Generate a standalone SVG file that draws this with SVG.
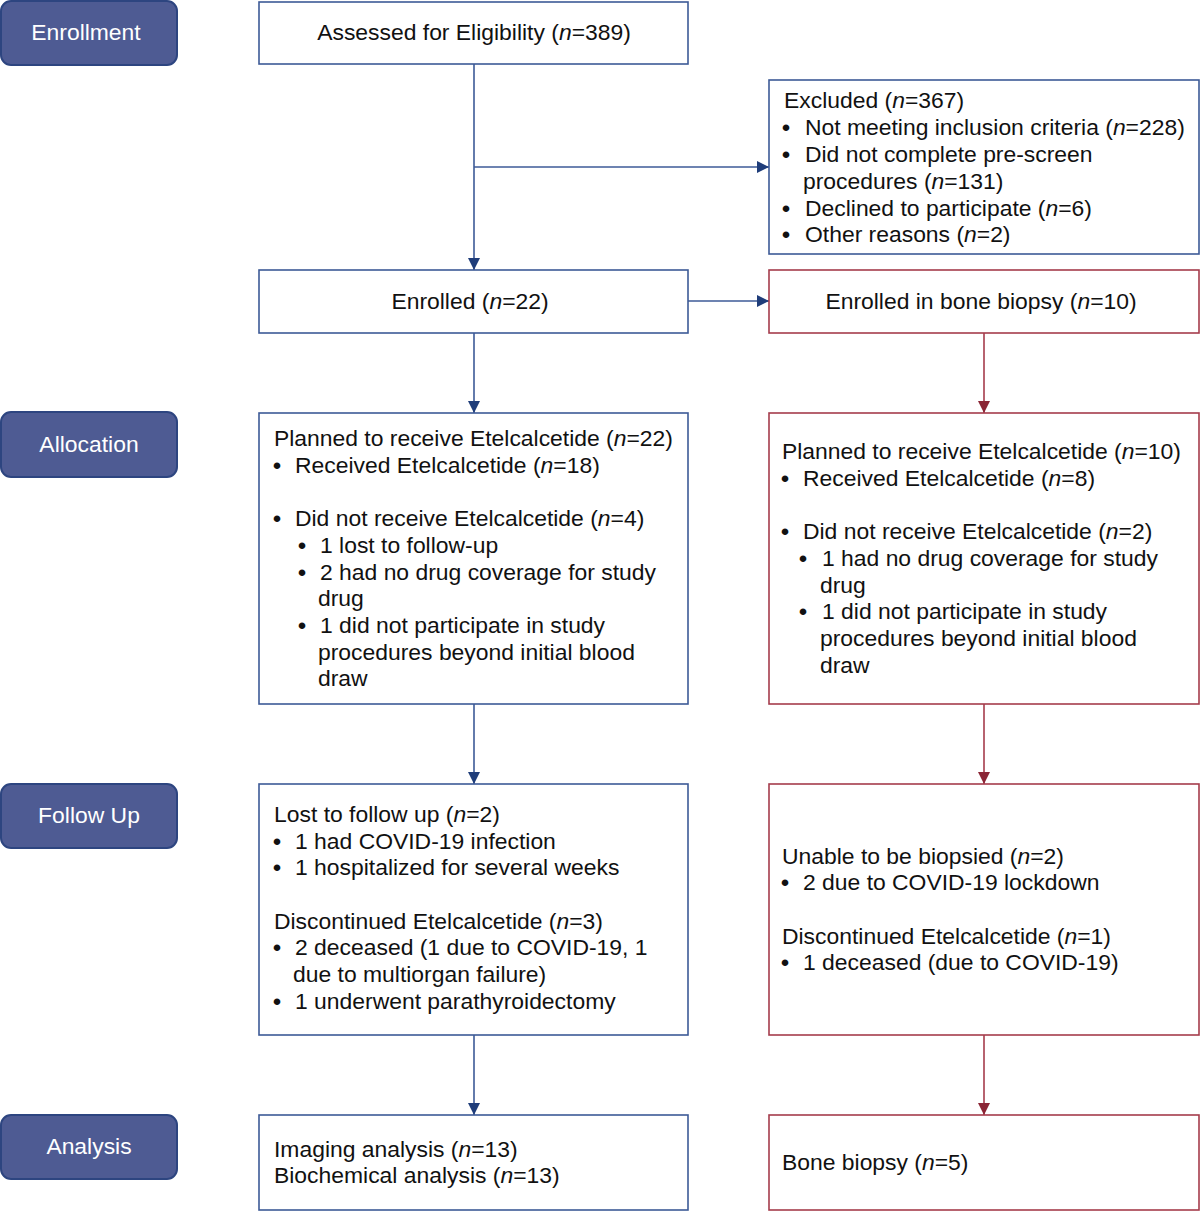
<svg xmlns="http://www.w3.org/2000/svg" width="1200" height="1211" viewBox="0 0 1200 1211">
<defs>
<style>
text{font-family:"Liberation Sans",Arial,sans-serif;font-size:22.9px;fill:#111}
.lbl rect{fill:#4e5b93;stroke:#2d4580;stroke-width:2}
.lbl text{fill:#fff;text-anchor:middle}
.bb{fill:#fff;stroke:#3d5a97;stroke-width:1.6}
.rb{fill:#fff;stroke:#a53c4c;stroke-width:1.6}
.cb{fill:none;stroke:#3d5a97;stroke-width:1.6}
.cr{fill:none;stroke:#a53c4c;stroke-width:1.6}
.c{text-anchor:middle}
.b{font-weight:bold}
</style>
<marker id="ab" viewBox="0 0 12 12" refX="12" refY="6" markerWidth="12" markerHeight="12" markerUnits="userSpaceOnUse" orient="auto"><path d="M0,0 L12,6 L0,12 Z" fill="#1f3d7a"/></marker>
<marker id="ar" viewBox="0 0 12 12" refX="12" refY="6" markerWidth="12" markerHeight="12" markerUnits="userSpaceOnUse" orient="auto"><path d="M0,0 L12,6 L0,12 Z" fill="#8b2535"/></marker>
</defs>
<rect width="1200" height="1211" fill="#fff"/>

<g id="labels">
<g id="lbl-enrollment" class="lbl"><rect x="1" y="1" width="176" height="64" rx="10"/><text x="86" y="40">Enrollment</text></g>
<g id="lbl-allocation" class="lbl"><rect x="1" y="412" width="176" height="65" rx="10"/><text x="89" y="452">Allocation</text></g>
<g id="lbl-followup" class="lbl"><rect x="1" y="784" width="176" height="64" rx="10"/><text x="89" y="823">Follow Up</text></g>
<g id="lbl-analysis" class="lbl"><rect x="1" y="1115" width="176" height="64" rx="10"/><text x="89" y="1154">Analysis</text></g>
</g>

<g id="connectors">
<path class="cb" d="M474,64 V270" marker-end="url(#ab)"/>
<path class="cb" d="M474,167 H769" marker-end="url(#ab)"/>
<path class="cb" d="M688,301 H769" marker-end="url(#ab)"/>
<path class="cb" d="M474,333 V413" marker-end="url(#ab)"/>
<path class="cb" d="M474,704 V784" marker-end="url(#ab)"/>
<path class="cb" d="M474,1035 V1115" marker-end="url(#ab)"/>
<path class="cr" d="M984,333 V413" marker-end="url(#ar)"/>
<path class="cr" d="M984,704 V784" marker-end="url(#ar)"/>
<path class="cr" d="M984,1035 V1115" marker-end="url(#ar)"/>
</g>

<g id="assessed">
<rect class="bb" x="259" y="2" width="429" height="62"/>
<text class="c" x="474" y="40">Assessed for Eligibility (<tspan font-style="italic">n</tspan>=389)</text>
</g>

<g id="excluded">
<rect class="bb" x="769" y="80" width="430" height="174"/>
<text x="784" y="108">Excluded (<tspan font-style="italic">n</tspan>=367)</text>
<text x="782" y="135"><tspan class="b">•</tspan><tspan x="805">Not meeting inclusion criteria (</tspan><tspan font-style="italic">n</tspan>=228)</text>
<text x="782" y="162"><tspan class="b">•</tspan><tspan x="805">Did not complete pre-screen</tspan></text>
<text x="803" y="189">procedures (<tspan font-style="italic">n</tspan>=131)</text>
<text x="782" y="216"><tspan class="b">•</tspan><tspan x="805">Declined to participate (</tspan><tspan font-style="italic">n</tspan>=6)</text>
<text x="782" y="242"><tspan class="b">•</tspan><tspan x="805">Other reasons (</tspan><tspan font-style="italic">n</tspan>=2)</text>
</g>

<g id="enrolled">
<rect class="bb" x="259" y="270" width="429" height="63"/>
<text class="c" x="470" y="309">Enrolled (<tspan font-style="italic">n</tspan>=22)</text>
</g>

<g id="enrolled-biopsy">
<rect class="rb" x="769" y="270" width="430" height="63"/>
<text class="c" x="981" y="309">Enrolled in bone biopsy (<tspan font-style="italic">n</tspan>=10)</text>
</g>

<g id="planned-left">
<rect class="bb" x="259" y="413" width="429" height="291"/>
<text x="274" y="446">Planned to receive Etelcalcetide (<tspan font-style="italic">n</tspan>=22)</text>
<text x="273" y="473"><tspan class="b">•</tspan><tspan x="295">Received Etelcalcetide (</tspan><tspan font-style="italic">n</tspan>=18)</text>
<text x="273" y="526"><tspan class="b">•</tspan><tspan x="295">Did not receive Etelcalcetide (</tspan><tspan font-style="italic">n</tspan>=4)</text>
<text x="298" y="553"><tspan class="b">•</tspan><tspan x="320">1 lost to follow-up</tspan></text>
<text x="298" y="580"><tspan class="b">•</tspan><tspan x="320">2 had no drug coverage for study</tspan></text>
<text x="318" y="606">drug</text>
<text x="298" y="633"><tspan class="b">•</tspan><tspan x="320">1 did not participate in study</tspan></text>
<text x="318" y="660">procedures beyond initial blood</text>
<text x="318" y="686">draw</text>
</g>

<g id="planned-right">
<rect class="rb" x="769" y="413" width="430" height="291"/>
<text x="782" y="459">Planned to receive Etelcalcetide (<tspan font-style="italic">n</tspan>=10)</text>
<text x="781" y="486"><tspan class="b">•</tspan><tspan x="803">Received Etelcalcetide (</tspan><tspan font-style="italic">n</tspan>=8)</text>
<text x="781" y="539"><tspan class="b">•</tspan><tspan x="803">Did not receive Etelcalcetide (</tspan><tspan font-style="italic">n</tspan>=2)</text>
<text x="799" y="566"><tspan class="b">•</tspan><tspan x="822">1 had no drug coverage for study</tspan></text>
<text x="820" y="593">drug</text>
<text x="799" y="619"><tspan class="b">•</tspan><tspan x="822">1 did not participate in study</tspan></text>
<text x="820" y="646">procedures beyond initial blood</text>
<text x="820" y="673">draw</text>
</g>

<g id="followup-left">
<rect class="bb" x="259" y="784" width="429" height="251"/>
<text x="274" y="822">Lost to follow up (<tspan font-style="italic">n</tspan>=2)</text>
<text x="273" y="849"><tspan class="b">•</tspan><tspan x="295">1 had COVID-19 infection</tspan></text>
<text x="273" y="875"><tspan class="b">•</tspan><tspan x="295">1 hospitalized for several weeks</tspan></text>
<text x="274" y="929">Discontinued Etelcalcetide (<tspan font-style="italic">n</tspan>=3)</text>
<text x="273" y="955"><tspan class="b">•</tspan><tspan x="295">2 deceased (1 due to COVID-19, 1</tspan></text>
<text x="293" y="982">due to multiorgan failure)</text>
<text x="273" y="1009"><tspan class="b">•</tspan><tspan x="295">1 underwent parathyroidectomy</tspan></text>
</g>

<g id="followup-right">
<rect class="rb" x="769" y="784" width="430" height="251"/>
<text x="782" y="864">Unable to be biopsied (<tspan font-style="italic">n</tspan>=2)</text>
<text x="781" y="890"><tspan class="b">•</tspan><tspan x="803">2 due to COVID-19 lockdown</tspan></text>
<text x="782" y="944">Discontinued Etelcalcetide (<tspan font-style="italic">n</tspan>=1)</text>
<text x="781" y="970"><tspan class="b">•</tspan><tspan x="803">1 deceased (due to COVID-19)</tspan></text>
</g>

<g id="analysis-left">
<rect class="bb" x="259" y="1115" width="429" height="95"/>
<text x="274" y="1157">Imaging analysis (<tspan font-style="italic">n</tspan>=13)</text>
<text x="274" y="1183">Biochemical analysis (<tspan font-style="italic">n</tspan>=13)</text>
</g>

<g id="analysis-right">
<rect class="rb" x="769" y="1115" width="430" height="95"/>
<text x="782" y="1170">Bone biopsy (<tspan font-style="italic">n</tspan>=5)</text>
</g>
</svg>
